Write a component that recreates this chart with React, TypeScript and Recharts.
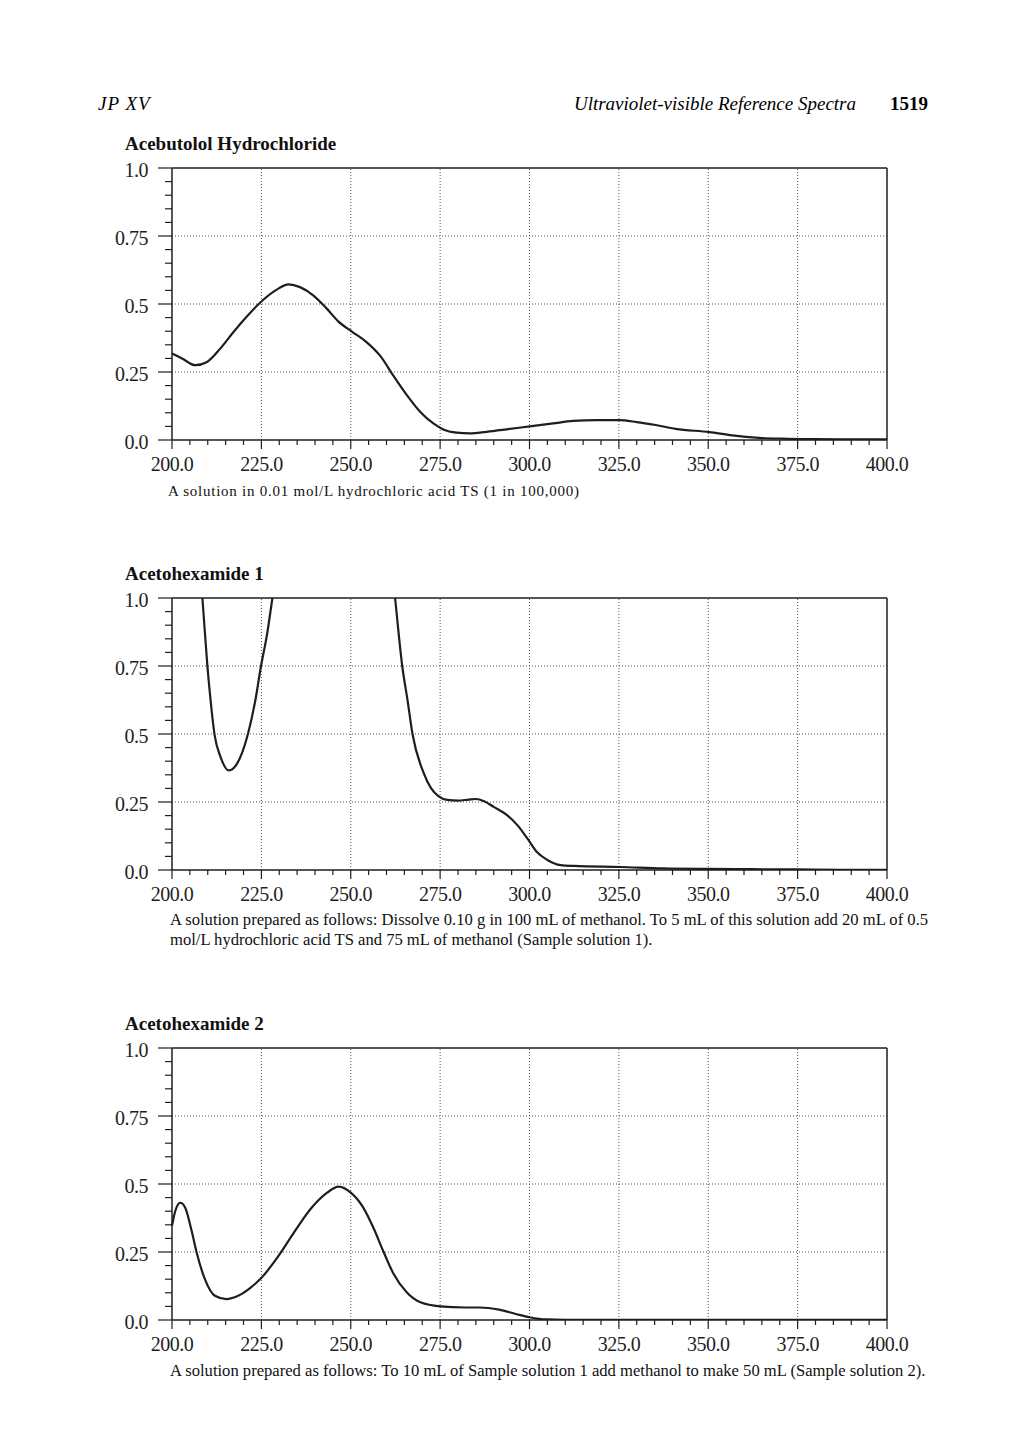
import React from "react"
import { LineChart, Line, XAxis, YAxis, ReferenceLine } from "recharts"

// Acebutolol Hydrochloride, 0.01 mol/L HCl
const acebutololNm = [200, 202.8, 206.5, 209.8, 213.5, 217.2, 221, 225.3, 229.3, 232.6, 235.8, 239.5, 243.3, 246.5, 250.5, 254.4, 258.2, 262, 265.7, 269.4, 273.1, 275.9, 279.6, 283.3, 288, 293.6, 300.6, 306.6, 312.2, 318.7, 325, 330, 335.3, 340.9, 350.3, 356.7, 364.2, 370.7, 380, 390, 400]
const acebutololAbs = [0.318, 0.3, 0.275, 0.287, 0.336, 0.397, 0.455, 0.513, 0.553, 0.572, 0.562, 0.532, 0.483, 0.436, 0.397, 0.36, 0.31, 0.235, 0.165, 0.104, 0.061, 0.039, 0.027, 0.024, 0.03, 0.039, 0.051, 0.061, 0.07, 0.073, 0.073, 0.066, 0.055, 0.041, 0.029, 0.017, 0.008, 0.005, 0.003, 0.002, 0.002]

// Acetohexamide 1 (goes off scale above 1.0)
const aceto1Nm = [200, 204, 206.5, 208.5, 209.9, 210.8, 211.9, 213.6, 215.9, 218.2, 221.2, 223.3, 224.9, 226.6, 228.1, 230, 235, 245, 255, 260, 262.4, 264.4, 265.9, 267.3, 270.3, 272.5, 274.5, 277, 280, 283, 285, 287.3, 290, 293.8, 296.6, 299.4, 302, 305, 308.7, 312.4, 325.4, 337.4, 350, 362, 375, 387, 400]
const aceto1Abs = [2.6, 1.8, 1.3, 1.0, 0.75, 0.623, 0.498, 0.415, 0.366, 0.391, 0.498, 0.623, 0.75, 0.867, 1.0, 1.15, 1.6, 2.2, 1.9, 1.3, 1.0, 0.75, 0.623, 0.498, 0.36, 0.3, 0.272, 0.258, 0.255, 0.259, 0.261, 0.253, 0.232, 0.201, 0.165, 0.116, 0.067, 0.037, 0.018, 0.015, 0.011, 0.006, 0.004, 0.003, 0.002, 0.001, 0.001]

// Acetohexamide 2
const aceto2Nm = [200, 200.9, 202.3, 203.7, 205.5, 206.9, 209.2, 212, 215.2, 218.5, 222.1, 225.1, 229.5, 234.1, 238.7, 243.4, 246.6, 250, 253.5, 256.3, 259.2, 262, 265.7, 269.5, 275, 282, 286, 291.5, 296.2, 300, 304.7, 310, 325, 350, 375, 400]
const aceto2Abs = [0.346, 0.4, 0.431, 0.413, 0.327, 0.248, 0.15, 0.089, 0.077, 0.089, 0.12, 0.156, 0.23, 0.321, 0.407, 0.468, 0.49, 0.468, 0.413, 0.34, 0.25, 0.169, 0.101, 0.065, 0.05, 0.046, 0.046, 0.038, 0.022, 0.01, 0.002, 0.001, 0.001, 0.001, 0.001, 0.001]

const xMajorTicks = [200, 225, 250, 275, 300, 325, 350, 375, 400]
const xTickLabels = ["200.0", "225.0", "250.0", "275.0", "300.0", "325.0", "350.0", "375.0", "400.0"]
const yMajorTicks = [0, 0.25, 0.5, 0.75, 1]
const yTickLabels = ["0.0", "0.25", "0.5", "0.75", "1.0"]

// minor ticks every 5 nm and every 0.05 absorbance
const xAllTicks = Array.from({ length: 41 }, (_, i) => 200 + i * 5)
const yAllTicks = Array.from({ length: 21 }, (_, i) => (i * 5) / 100)

const serif = "'Liberation Serif', 'Times New Roman', serif"
const ink = "#1e1e1e"

function XTick({ x, y, payload }: any) {
  const idx = xMajorTicks.indexOf(payload.value)
  const major = idx >= 0
  return (
    <g>
      <line x1={x} y1={y} x2={x} y2={y + (major ? 9 : 5)} stroke={ink} strokeWidth={1.2} />
      {major && (
        <text x={x} y={y + 31} textAnchor="middle" fontSize={20} fill={ink} fontFamily={serif} letterSpacing={-0.5}>
          {xTickLabels[idx]}
        </text>
      )}
    </g>
  )
}

function YTick({ x, y, payload }: any) {
  const idx = yMajorTicks.findIndex((t) => Math.abs(t - payload.value) < 1e-6)
  const major = idx >= 0
  return (
    <g>
      <line x1={x - (major ? 14 : 7)} y1={y} x2={x} y2={y} stroke={ink} strokeWidth={1.2} />
      {major && (
        <text x={x - 24} y={y + 9} textAnchor="end" fontSize={20} fill={ink} fontFamily={serif} letterSpacing={-0.5}>
          {yTickLabels[idx]}
        </text>
      )}
    </g>
  )
}

interface PanelProps {
  nm: number[]
  abs: number[]
  plotTop: number
  title: string
}

function SpectrumPanel({ nm, abs, plotTop, title }: PanelProps) {
  const rows = nm.map((w, i) => ({ nm: w, abs: abs[i] }))
  return (
    <>
      <div
        style={{
          position: "absolute",
          left: 125,
          top: plotTop - 34,
          fontFamily: serif,
          fontWeight: "bold",
          fontSize: 19,
          lineHeight: "19px",
          whiteSpace: "nowrap",
          color: "#111",
        }}
      >
        {title}
      </div>
      <div style={{ position: "absolute", left: 100, top: plotTop - 10 }}>
        <LineChart width={830} height={322} data={rows} margin={{ top: 10, right: 43, bottom: 0, left: 22 }}>
          <XAxis
            dataKey="nm"
            type="number"
            domain={[200, 400]}
            ticks={xAllTicks}
            interval={0}
            tickSize={0}
            tickMargin={0}
            tickLine={false}
            tick={(p: any) => <XTick {...p} />}
            axisLine={{ stroke: ink, strokeWidth: 1.5 }}
            height={40}
          />
          <YAxis
            type="number"
            domain={[0, 1]}
            allowDataOverflow
            ticks={yAllTicks}
            interval={0}
            tickSize={0}
            tickMargin={0}
            tickLine={false}
            tick={(p: any) => <YTick {...p} />}
            axisLine={{ stroke: ink, strokeWidth: 1.5 }}
            width={50}
          />
          {xMajorTicks.slice(1, -1).map((v) => (
            <ReferenceLine key={"vx" + v} x={v} stroke="#555" strokeDasharray="1 2" />
          ))}
          {yMajorTicks.slice(1, -1).map((v) => (
            <ReferenceLine key={"hy" + v} y={v} stroke="#555" strokeDasharray="1 2" />
          ))}
          <ReferenceLine y={1} stroke={ink} strokeWidth={1.5} />
          <ReferenceLine x={400} stroke={ink} strokeWidth={1.5} />
          <Line
            type="monotone"
            dataKey="abs"
            stroke={ink}
            strokeWidth={2.2}
            dot={false}
            activeDot={false}
            isAnimationActive={false}
          />
        </LineChart>
      </div>
    </>
  )
}

const captionStyle: React.CSSProperties = {
  position: "absolute",
  left: 170,
  fontFamily: serif,
  fontSize: 16.6,
  lineHeight: "20px",
  whiteSpace: "nowrap",
  color: "#111",
}

export default function App() {
  return (
    <div style={{ position: "absolute", left: 0, top: 0, width: 1020, height: 1443, background: "#fff" }}>
      <div style={{ position: "absolute", left: 98, top: 94, fontFamily: serif, fontStyle: "italic", fontSize: 19, lineHeight: "19px", letterSpacing: 1 }}>
        JP XV
      </div>
      <div
        style={{
          position: "absolute",
          right: 1020 - 856,
          top: 94,
          fontFamily: serif,
          fontStyle: "italic",
          fontSize: 19,
          lineHeight: "19px",
          whiteSpace: "nowrap",
        }}
      >
        Ultraviolet-visible Reference Spectra
      </div>
      <div style={{ position: "absolute", right: 1020 - 928, top: 94, fontFamily: serif, fontWeight: "bold", fontSize: 19, lineHeight: "19px" }}>
        1519
      </div>

      <SpectrumPanel nm={acebutololNm} abs={acebutololAbs} plotTop={168} title="Acebutolol Hydrochloride" />
      <div style={{ ...captionStyle, left: 168, top: 481, fontSize: 15, letterSpacing: 0.75 }}>
        A solution in 0.01 mol/L hydrochloric acid TS (1 in 100,000)
      </div>

      <SpectrumPanel nm={aceto1Nm} abs={aceto1Abs} plotTop={598} title="Acetohexamide 1" />
      <div style={{ ...captionStyle, top: 910 }}>
        A solution prepared as follows: Dissolve 0.10 g in 100 mL of methanol. To 5 mL of this solution add 20 mL of 0.5
        <br />
        mol/L hydrochloric acid TS and 75 mL of methanol (Sample solution 1).
      </div>

      <SpectrumPanel nm={aceto2Nm} abs={aceto2Abs} plotTop={1048} title="Acetohexamide 2" />
      <div style={{ ...captionStyle, top: 1361 }}>
        A solution prepared as follows: To 10 mL of Sample solution 1 add methanol to make 50 mL (Sample solution 2).
      </div>
    </div>
  )
}
